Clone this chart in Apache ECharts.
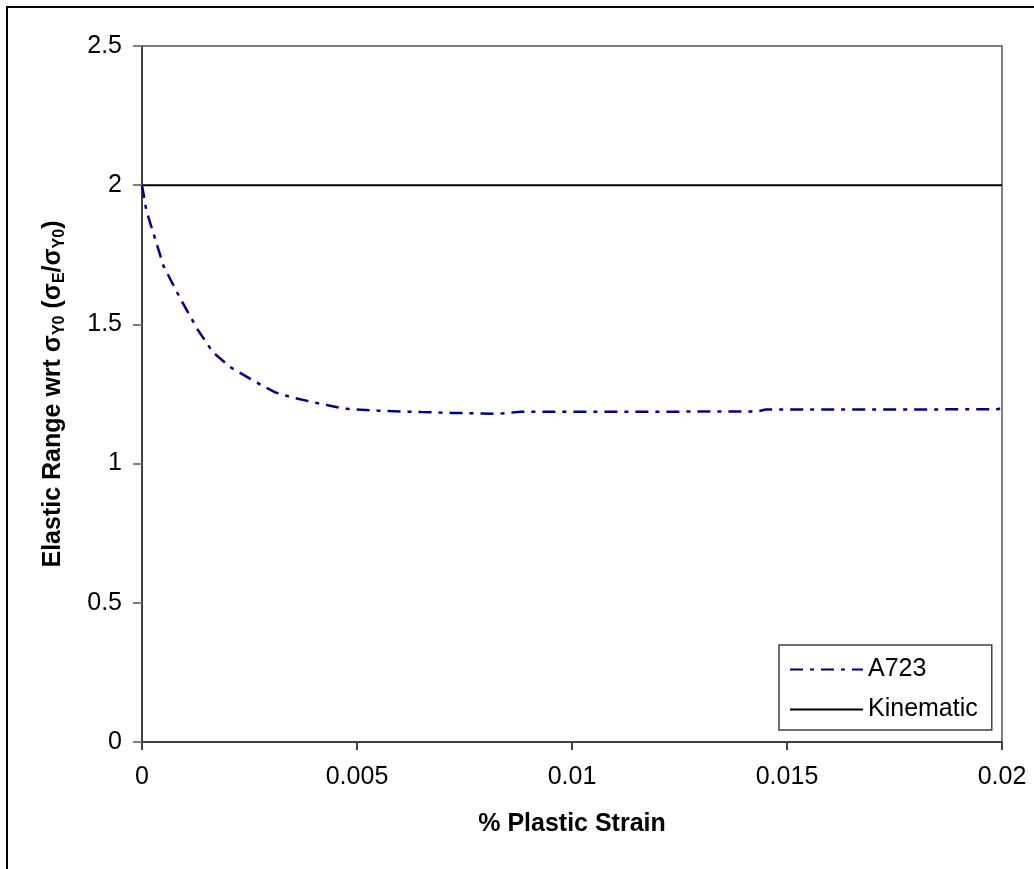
<!DOCTYPE html>
<html>
<head>
<meta charset="utf-8">
<script src="https://cdn.jsdelivr.net/npm/echarts@6/dist/echarts.min.js"></script>
<style>
  html, body { margin: 0; padding: 0; background: #fff; }
  #chart { width: 1034px; height: 869px; }
</style>
</head>
<body>
<div id="chart"></div>
<script>
// % plastic strain (x) and elastic range ratio (y)
const strainA723 = [0, 0.0001, 0.0005, 0.0009, 0.0013, 0.00165, 0.00205, 0.0025, 0.0028, 0.0031,
  0.0035, 0.004, 0.0044, 0.0047, 0.0055, 0.0065, 0.0072, 0.0083, 0.0088, 0.0143, 0.0145, 0.0199, 0.02]
const rangeA723 = [2.0, 1.91, 1.71, 1.59, 1.48, 1.40, 1.347, 1.306, 1.28, 1.256,
  1.237, 1.22, 1.207, 1.197, 1.19, 1.185, 1.182, 1.179, 1.186, 1.187, 1.194, 1.195, 1.2]
const strainKinematic = [0, 0.02]
const rangeKinematic = [2, 2]
const seriesNames = ['A723', 'Kinematic']

const font = '"Liberation Sans", Arial, sans-serif'

const chart = echarts.init(document.getElementById('chart'))

const option = {
  animation: false,
  textStyle: { fontFamily: font },
  graphic: [
    {
      // outer chart frame
      type: 'rect',
      shape: { x: 7, y: 7, width: 1100, height: 1000 },
      style: { fill: 'none', stroke: '#000', lineWidth: 2 },
      z: 100
    }
  ],
  grid: {
    left: 142,
    top: 46,
    right: 32,
    bottom: 127,
    show: true,
    borderColor: '#808080',
    borderWidth: 2,
    backgroundColor: 'transparent'
  },
  legend: {
    orient: 'vertical',
    left: 779,
    top: 645,
    padding: [12, 14, 8, 10],
    itemGap: 15,
    itemWidth: 73,
    itemHeight: 14,
    backgroundColor: '#fff',
    borderColor: '#404040',
    borderWidth: 1.5,
    itemStyle: { opacity: 0 },
    textStyle: { fontSize: 25, color: '#000', fontFamily: font },
    data: seriesNames
  },
  xAxis: {
    type: 'value',
    min: 0,
    max: 0.02,
    interval: 0.005,
    name: '% Plastic Strain',
    nameLocation: 'middle',
    nameGap: 70,
    nameTextStyle: { fontSize: 25, fontWeight: 'bold', color: '#000', fontFamily: font },
    axisLine: { lineStyle: { color: '#404040', width: 2 } },
    axisTick: { show: true, length: 8, lineStyle: { color: '#404040', width: 2 } },
    axisLabel: { fontSize: 25, color: '#000', margin: 23, fontFamily: font },
    splitLine: { show: false }
  },
  yAxis: {
    type: 'value',
    min: 0,
    max: 2.5,
    interval: 0.5,
    name: 'Elastic Range wrt σ{s|Y0} (σ{s|E}/σ{s|Y0})',
    nameLocation: 'middle',
    nameRotate: 90,
    nameGap: 74,
    nameTextStyle: {
      fontSize: 25,
      fontWeight: 'bold',
      color: '#000',
      fontFamily: font,
      lineHeight: 30,
      rich: {
        s: { fontSize: 16, fontWeight: 'bold', color: '#000', fontFamily: font, verticalAlign: 'bottom', lineHeight: 30 }
      }
    },
    axisLine: { show: true, lineStyle: { color: '#404040', width: 2 } },
    axisTick: { show: true, length: 9, lineStyle: { color: '#808080', width: 2 } },
    axisLabel: { fontSize: 25, color: '#000', margin: 20, fontFamily: font },
    splitLine: { show: false }
  },
  series: [
    {
      name: seriesNames[0],
      type: 'line',
      data: strainA723.map((x, i) => [x, rangeA723[i]]),
      symbol: 'none',
      smooth: false,
      z: 3,
      lineStyle: { color: '#000080', width: 2.5, type: [13, 7, 4, 7] },
      itemStyle: { color: '#000080' }
    },
    {
      name: seriesNames[1],
      type: 'line',
      data: strainKinematic.map((x, i) => [x, rangeKinematic[i]]),
      symbol: 'none',
      z: 2,
      lineStyle: { color: '#000', width: 2, type: 'solid' },
      itemStyle: { color: '#000' }
    }
  ]
}

chart.setOption(option)
</script>
</body>
</html>
